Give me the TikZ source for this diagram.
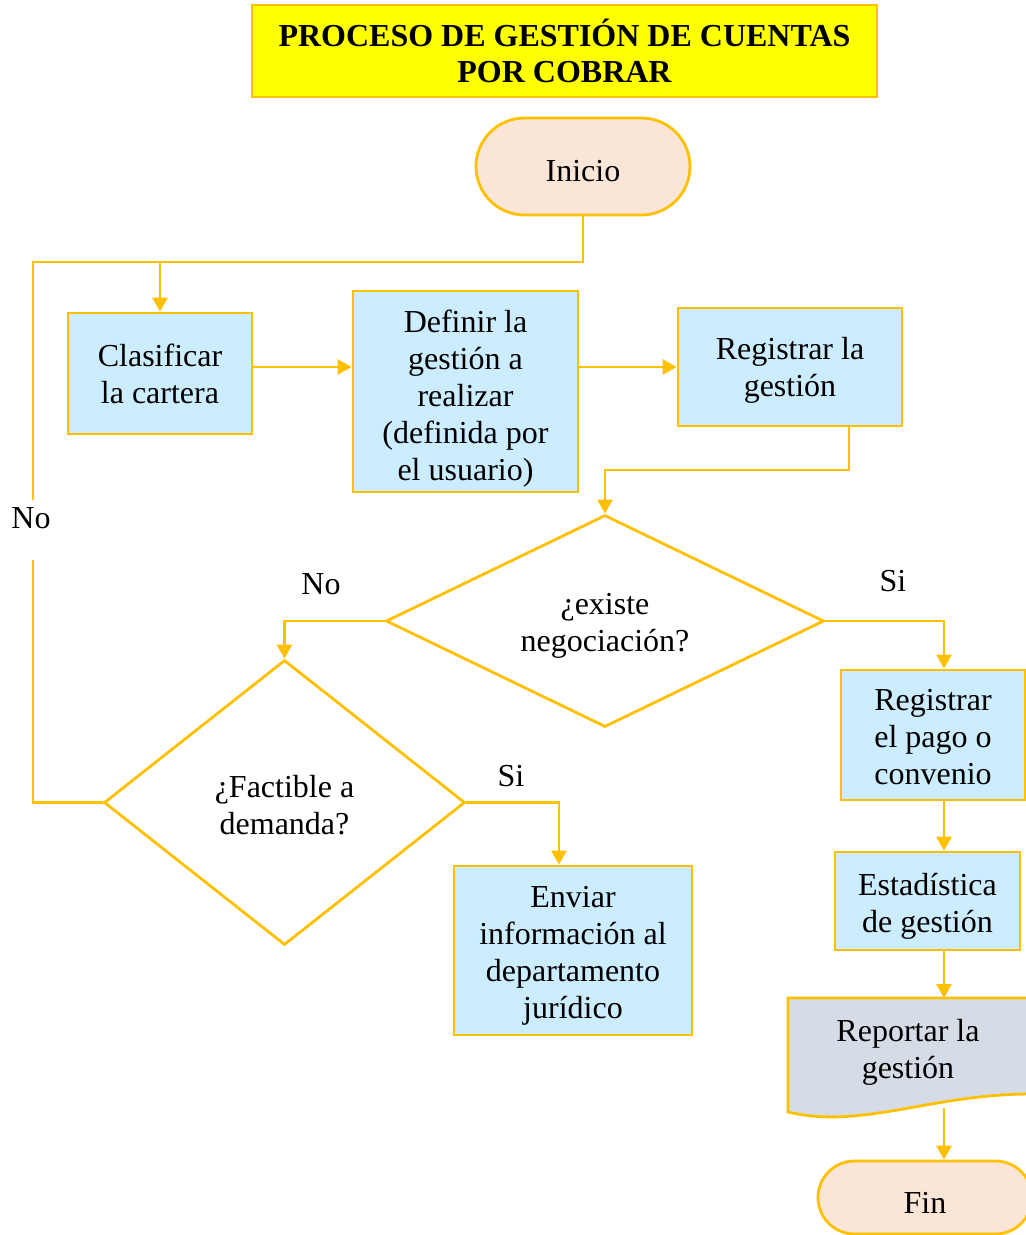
\documentclass[tikz,border=0pt]{standalone}
\usepackage{fontspec}
\setmainfont{Liberation Serif}
\usetikzlibrary{shapes.misc,shapes.geometric,arrows.meta,calc}
\definecolor{gold}{HTML}{FFC000}
\definecolor{boxblue}{HTML}{CCECFF}
\definecolor{peach}{HTML}{FBE5D6}
\definecolor{docgray}{HTML}{D6DCE5}
\definecolor{titleyellow}{HTML}{FFFF00}
% invisible strut that lowers a centred block of text a little
\newcommand{\topgap}[1]{\rule{0pt}{#1}}
\tikzset{
  flowline/.style={draw=gold, line width=2.8pt},
  arrowline/.style={flowline, -{Triangle[length=14pt,width=15pt]}},
  procbox/.style={draw=gold, fill=boxblue, line width=2.8pt, align=center, inner sep=0pt},
  terminal/.style={rounded rectangle, draw=gold, fill=peach, line width=2.8pt, inner sep=0pt},
  decision/.style={diamond, aspect=2, draw=gold, fill=white, line width=2.8pt, align=center, inner sep=0pt},
  branchlabel/.style={inner sep=0pt, anchor=center},
}
\begin{document}
\begin{tikzpicture}[x=1pt, y=-1pt, font=\fontsize{32}{37}\selectfont]
\useasboundingbox (0,0) rectangle (1026,1235);
\clip (0,0) rectangle (1026,1235);

% title banner
\node[procbox, fill=titleyellow, minimum width=625pt, minimum height=92pt,
      font=\fontsize{32}{36}\selectfont\bfseries] (title) at (564.5,51)
  {PROCESO DE GESTIÓN DE CUENTAS\\POR COBRAR};

% start
\node[terminal, minimum width=214pt, minimum height=97pt] (ini) at (583,166.5) {\topgap{31pt}Inicio};

% process boxes
\node[procbox, minimum width=184pt, minimum height=121pt] (cla) at (160,373.5) {\topgap{24pt}Clasificar\\la cartera};
\node[procbox, minimum width=225pt, minimum height=201pt] (def) at (465.5,391.5)
  {\topgap{36pt}Definir la\\gestión a\\realizar\\(definida por\\el usuario)};
\node[procbox, minimum width=224pt, minimum height=118pt] (reg) at (790,367) {\topgap{28pt}Registrar la\\gestión};

% decisions
\node[decision, minimum width=438pt, minimum height=212pt] (d1) at (605,621) {\topgap{30pt}¿existe\\negociación?};
\node[decision, minimum width=361pt, minimum height=285pt] (d2) at (284.5,802.5) {\topgap{28pt}¿Factible a\\demanda?};

\node[procbox, minimum width=238pt, minimum height=169pt] (env) at (573,950.5)
  {\topgap{32pt}Enviar\\información al\\departamento\\jurídico};
\node[procbox, minimum width=184pt, minimum height=130pt] (pago) at (933,735) {\topgap{26pt}Registrar\\el pago o\\convenio};
\node[procbox, minimum width=185pt, minimum height=98pt] (est) at (927.5,901) {\topgap{32pt}Estadística\\de gestión};

% document shape for the report
\coordinate (docTL) at (788,998);
\coordinate (docTR) at (1032,998);
\coordinate (docBR) at (1032,1094);
\coordinate (docBL) at (788,1112);
\filldraw[draw=gold, fill=docgray, line width=2.8pt]
  (docTL) -- (docTR) -- (docBR)
  .. controls (1000,1094) and (970,1097) .. (920,1106)
  .. controls (870,1115) and (830,1122) .. (docBL) -- cycle;
\node[align=center, inner sep=0pt] (rep) at (908,1052) {Reportar la\\gestión};

% end
\node[terminal, minimum width=214pt, minimum height=73pt] (fin) at (925,1197.5) {\topgap{31pt}Fin};

% helper points for the routing
\coordinate (col) at (944,0);
\coordinate (j1) at (160,262);
\coordinate (gapTop) at (33,500);
\coordinate (gapBot) at (33,560);
\coordinate (r1) at (849,470);
\coordinate (docOut) at (944,1108);

% connectors
\draw[flowline] (ini.south) |- (j1);
\draw[flowline] (gapTop) |- (j1);
\draw[arrowline] (j1) -- (cla.north);
\draw[flowline] (d2.west) -| (gapBot);
\draw[arrowline] (cla.east |- reg.west) -- (def.west |- reg.west);
\draw[arrowline] (def.east |- reg.west) -- (reg.west);
\draw[arrowline] (reg.south -| r1) -- (r1) -| (d1.north);
\draw[arrowline] (d1.west) -| (d2.north);
\draw[arrowline] (d1.east) -| (pago.north -| col);
\draw[arrowline] (d2.east) -| ($(env.north)+(-14,0)$);
\draw[arrowline] (pago.south -| col) -- (est.north -| col);
\draw[arrowline] (est.south -| col) -- (docTL -| col);
\draw[arrowline] (docOut) -- (fin.north -| col);

% branch labels
\node[branchlabel] (lNo1) at (31,518) {No};
\node[branchlabel] (lNo2) at (321,584) {No};
\node[branchlabel] (lSi1) at (893,581) {Si};
\node[branchlabel] (lSi2) at (511,776) {Si};
\end{tikzpicture}
\end{document}
